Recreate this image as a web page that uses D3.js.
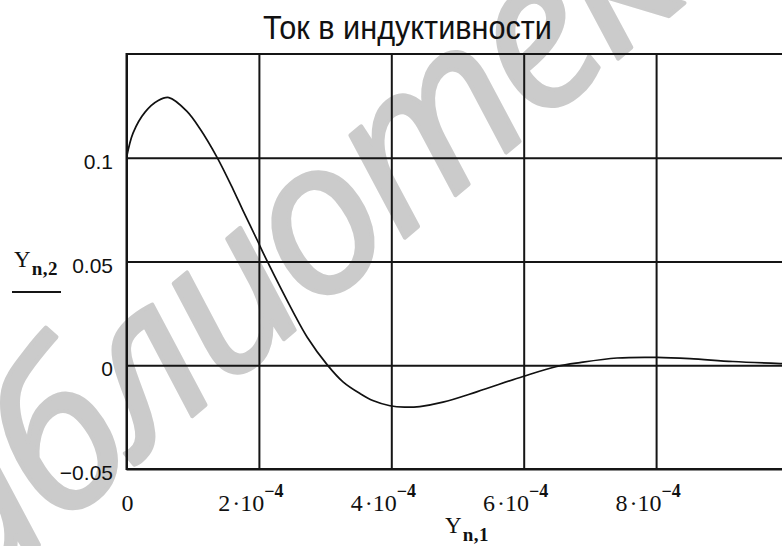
<!DOCTYPE html>
<html>
<head>
<meta charset="utf-8">
<script src="https://cdn.jsdelivr.net/npm/d3@7"></script>
<style>
  html, body { margin: 0; padding: 0; background: #fff; }
  svg { display: block; }
</style>
</head>
<body>
<div id="chart"></div>
<script>
const chartTitle = "Ток в индуктивности";
const watermark = "библиотека";

// time in units of 1e-4, current
const timeE4 = [0, 0.10, 0.28, 0.48, 0.64, 0.91, 1.11, 1.37, 1.61, 1.76, 1.97, 2.12, 2.52, 2.73, 3.03,
    3.27, 3.53, 3.72, 3.98, 4.20, 4.43, 4.78, 5.30, 5.99, 6.50, 6.85, 7.41, 8.01, 8.51, 9.16, 9.90, 10.0];
const current = [0.100, 0.112, 0.122, 0.1276, 0.129, 0.1225, 0.1140, 0.1001, 0.0848, 0.0745, 0.0606, 0.0505, 0.0255, 0.0135, 0.0003,
    -0.0080, -0.0137, -0.0170, -0.0195, -0.0202, -0.0199, -0.0178, -0.0127, -0.0054, -0.0006, 0.0013, 0.0035, 0.0038, 0.0032, 0.0018, 0.0008, 0.0007];

const xTicks = [0, 2e-4, 4e-4, 6e-4, 8e-4];
const xTickMantissa = ["0", "2", "4", "6", "8"];
const xTickExponent = "\u22124";
const yTicks = [-0.05, 0, 0.05, 0.1];
const yTickLabels = ["\u22120.05", "0", "0.05", "0.1"];

const width = 782, height = 546;
const plot = { left: 126.5, top: 54, right: 788.5, bottom: 469 };
const ink = "#151515";

const svg = d3.select("#chart")
    .append("svg")
    .attr("width", width)
    .attr("height", height);

const x = d3.scaleLinear().domain([0, 1e-3]).range([plot.left, plot.right]);
const y = d3.scaleLinear().domain([-0.05, 0.15]).range([plot.bottom, plot.top]);

// watermark, under everything
svg.append("text")
    .attr("transform", "translate(-115,674) rotate(-40)")
    .style("font", "italic 400 212px 'Open Sans', 'Noto Sans', sans-serif")
    .style("letter-spacing", "-6px")
    .attr("fill", "#cbcbcb")
    .attr("stroke", "#cbcbcb")
    .attr("stroke-width", 4)
    .attr("stroke-linejoin", "round")
    .text(watermark);

// title
svg.append("text")
    .attr("x", 407.5)
    .attr("y", 39)
    .attr("text-anchor", "middle")
    .attr("textLength", 289)
    .attr("lengthAdjust", "spacingAndGlyphs")
    .style("font", "33px 'Liberation Sans', Arial, sans-serif")
    .attr("fill", "#111")
    .text(chartTitle);

// grid
svg.append("g")
    .attr("transform", `translate(0,${plot.bottom})`)
    .attr("color", ink)
    .call(d3.axisBottom(x).tickValues(xTicks).tickSize(-(plot.bottom - plot.top)).tickFormat(""))
    .call(g => g.select(".domain").remove())
    .selectAll("line").attr("stroke-width", 2);

svg.append("g")
    .attr("transform", `translate(${plot.left},0)`)
    .attr("color", ink)
    .call(d3.axisLeft(y).tickValues(yTicks).tickSize(-(plot.right - plot.left)).tickFormat(""))
    .call(g => g.select(".domain").remove())
    .selectAll("line").attr("stroke-width", 2);

// frame
svg.append("rect")
    .attr("x", plot.left)
    .attr("y", plot.top)
    .attr("width", plot.right - plot.left)
    .attr("height", plot.bottom - plot.top)
    .attr("fill", "none")
    .attr("stroke", ink)
    .attr("stroke-width", 2);

// curve
svg.append("clipPath").attr("id", "clip")
    .append("rect")
    .attr("x", plot.left).attr("y", plot.top)
    .attr("width", plot.right - plot.left).attr("height", plot.bottom - plot.top);

const line = d3.line()
    .x((d, i) => x(timeE4[i] * 1e-4))
    .y(d => y(d))
    .curve(d3.curveCatmullRom.alpha(0.5));

svg.append("path")
    .datum(current)
    .attr("clip-path", "url(#clip)")
    .attr("fill", "none")
    .attr("stroke", "#111")
    .attr("stroke-width", 1.7)
    .attr("d", line);

// y tick labels
svg.append("g")
    .selectAll("text")
    .data(yTicks)
    .enter()
    .append("text")
    .attr("x", 113)
    .attr("y", d => y(d) + 11)
    .attr("text-anchor", "end")
    .style("font", "21px 'Liberation Sans', Arial, sans-serif")
    .attr("fill", "#111")
    .text((d, i) => yTickLabels[i]);

// x tick labels
const xLabels = svg.append("g")
    .selectAll("text")
    .data(xTicks)
    .enter()
    .append("text")
    .attr("x", (d, i) => i === 0 ? x(d) + 1 : x(d) - 8)
    .attr("y", 511)
    .attr("text-anchor", "middle")
    .style("font", "24px 'Liberation Serif', 'Times New Roman', serif")
    .attr("fill", "#111");

xLabels.append("tspan").text((d, i) => xTickMantissa[i]);
xLabels.filter((d, i) => i > 0).each(function() {
    const t = d3.select(this);
    t.append("tspan").attr("dx", 2).text("\u00b7");
    t.append("tspan").text("10");
    t.append("tspan")
        .attr("dy", -14)
        .style("font-size", "18px")
        .style("font-weight", "bold")
        .text(xTickExponent);
});

// axis variable names, Mathcad style
function varName(px, py, sub) {
    const t = svg.append("text")
        .attr("x", px)
        .attr("y", py)
        .style("font", "23px 'Liberation Serif', 'Times New Roman', serif")
        .attr("fill", "#111");
    t.append("tspan").text("Y");
    t.append("tspan")
        .attr("dx", 1)
        .attr("dy", 8)
        .style("font-size", "19px")
        .style("font-weight", "bold")
        .style("letter-spacing", "0.5px")
        .text(sub);
}
varName(14, 267, "n,2");
varName(445, 533, "n,1");

// trace marker under the y name
svg.append("line")
    .attr("x1", 12).attr("x2", 61)
    .attr("y1", 292).attr("y2", 292)
    .attr("stroke", ink)
    .attr("stroke-width", 2);
</script>
</body>
</html>
